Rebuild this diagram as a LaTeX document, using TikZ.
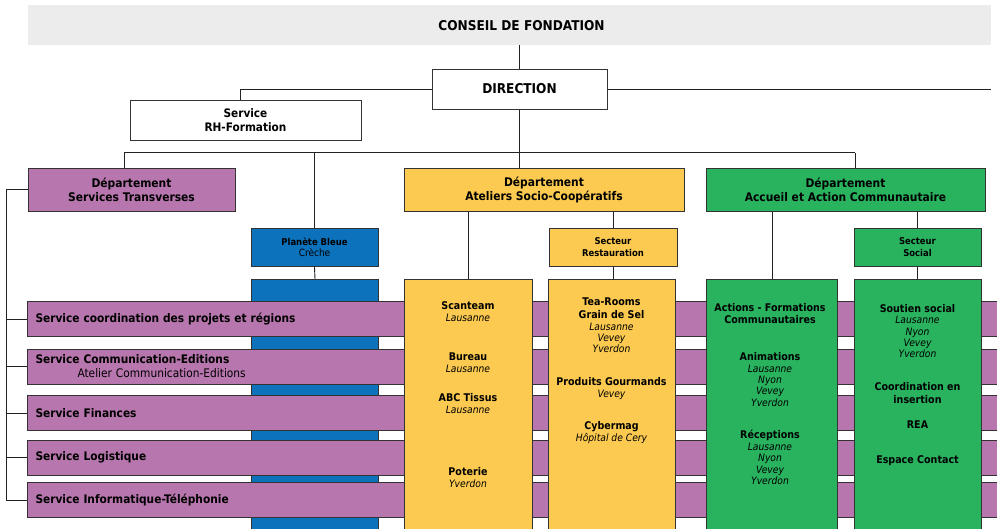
\documentclass[tikz,border=0pt]{standalone}
\usepackage{fontspec}
\setmainfont{DejaVu Sans Condensed}
\definecolor{cgray}{HTML}{ECECEC}
\definecolor{cpurple}{HTML}{B876AE}
\definecolor{cyellow}{HTML}{FCCA50}
\definecolor{cgreen}{HTML}{29B35F}
\definecolor{cblue}{HTML}{0B72BB}
\definecolor{cborder}{HTML}{333333}
\definecolor{cline}{HTML}{222222}
\begin{document}
\begin{tikzpicture}[x=1pt,y=-1pt,
  box/.style={draw=cborder,line width=1pt,inner sep=0pt,align=center,
    font=\fontsize{11.9}{14}\selectfont\bfseries},
  bar/.style={draw=cborder,line width=1pt,fill=cpurple,inner ysep=0pt,inner xsep=8pt,
    text width=967pt,align=left,minimum height=35pt,anchor=west,
    font=\fontsize{11.8}{14}\selectfont\bfseries},
  col/.style={draw=cborder,line width=1pt,inner sep=0pt,anchor=north west,minimum height=270pt},
  small/.style={draw=cborder,line width=1pt,inner sep=0pt,align=center,
    minimum height=38pt,font=\fontsize{9.4}{11.5}\selectfont\bfseries},
  ttl/.style={inner sep=0pt,text height=7.7pt,text depth=0pt,font=\fontsize{10.6}{12}\selectfont\bfseries},
  sub/.style={inner sep=0pt,text height=6.8pt,text depth=0pt,font=\fontsize{10.2}{11}\selectfont\itshape},
  link/.style={draw=cline,line width=0.9pt}]
\clip (0,0) rectangle (997,528);
\fill[white] (0,0) rectangle (997,528);

% top
\node[inner sep=0pt,fill=cgray,minimum width=963pt,minimum height=40pt] (conseil) at (509.5,25) {};
\node[font=\fontsize{13.5}{15}\selectfont\bfseries,inner sep=0pt] (conseiltxt) at (521.5,25.5) {CONSEIL DE FONDATION};
\node[box,fill=white,minimum width=175pt,minimum height=40pt,font=\fontsize{13.5}{15}\selectfont\bfseries] (dir) at (519.5,89) {DIRECTION};
\node[box,fill=white,minimum width=231pt,minimum height=40pt,font=\fontsize{11.7}{14}\selectfont\bfseries] (rh) at (245.5,120) {Service\\RH-Formation};
\coordinate (rend) at (991,89);
\draw[link] (dir.north) -- (dir.north |- conseil.south);
\draw[link] (dir.east) -- (rend);
\draw[link] (dir.west) -| ([xshift=-5.5pt]rh.north);

% departments
\node[box,fill=cpurple,minimum width=207pt,minimum height=43pt] (st) at (131.5,189.5) {Département\\Services Transverses};
\node[box,fill=cyellow,minimum width=280pt,minimum height=43pt] (asc) at (544,189.5) {Département\\Ateliers Socio-Coopératifs};
\node[box,fill=cgreen,minimum width=279pt,minimum height=43pt] (aac) at (845.5,189.5) {Département\\Accueil et Action Communautaire};

\coordinate (busL) at (124,152.5);
\coordinate (busR) at (855,152.5);
\draw[link] (busL) -- (busR);
\draw[link] (busL) -- (busL |- st.north);
\draw[link] (busR) -- (busR |- aac.north);
\draw[link] (dir.south) -- (dir.south |- asc.north);

% blue (behind bars)
\node[small,fill=cblue,minimum width=127pt] (pb) at (314.5,247.5) {Planète Bleue\\\mdseries\fontsize{10}{11.5}\selectfont Crèche};
\node[col,fill=cblue,minimum width=127pt] (pbcol) at (251,279) {};
\draw[link] (pb.north) -- (pb.north |- busL);
\draw[link] (pb.south) -- (pbcol.north);

% service bars
\node[bar] (b1) at (27,319) {Service coordination des projets et régions};
\node[bar] (b2) at (27,366.5) {Service Communication-Editions\\\hspace*{42pt}\mdseries Atelier Communication-Editions};
\node[bar] (b3) at (27,413) {Service Finances};
\node[bar] (b4) at (27,457.5) {Service Logistique};
\node[bar] (b5) at (27,500) {Service Informatique-Téléphonie};
\coordinate (lx) at (6,189.5);
\draw[link] (st.west) -- (lx) |- (b5.west);
\foreach \b in {b1,b2,b3,b4} \draw[link] (lx |- \b.west) -- (\b.west);

% ASC
\node[small,fill=cyellow,minimum width=128pt] (resto) at (613,247) {Secteur\\Restauration};
\node[col,fill=cyellow,minimum width=128pt] (a1) at (404,279) {};
\node[col,fill=cyellow,minimum width=127pt] (a2) at (548,279) {};
\draw[link] (asc.south -| resto.north) -- (resto.north);
\draw[link] (resto.south) -- (resto.south |- a2.north);
\draw[link] (a1.north |- asc.south) -- (a1.north);

% AAC
\node[small,fill=cgreen,minimum width=127pt] (soc) at (917.5,247) {Secteur\\Social};
\node[col,fill=cgreen,minimum width=131pt] (c1) at (706,279) {};
\node[col,fill=cgreen,minimum width=127pt] (c2) at (854,279) {};
\draw[link] (aac.south -| soc.north) -- (soc.north);
\draw[link] (soc.south) -- (soc.south |- c2.north);
\draw[link] (c1.north |- aac.south) -- (c1.north);

% column texts
\node[ttl] (a1t1) at (468,306) {Scanteam};
\node[sub] (a1s1) at (468,318) {Lausanne};
\node[ttl] (a1t2) at (468,357) {Bureau};
\node[sub] (a1s2) at (468,369) {Lausanne};
\node[ttl] (a1t3) at (468,398) {ABC Tissus};
\node[sub] (a1s3) at (468,410) {Lausanne};
\node[ttl] (a1t4) at (468,472) {Poterie};
\node[sub] (a1s4) at (468,484) {Yverdon};

\node[ttl] (a2t1) at (611.5,302) {Tea-Rooms};
\node[ttl] (a2t1b) at (611.5,315) {Grain de Sel};
\node[sub] (a2s1) at (611.5,327) {Lausanne};
\node[sub] (a2s2) at (611.5,338) {Vevey};
\node[sub] (a2s3) at (611.5,349) {Yverdon};
\node[ttl] (a2t2) at (611.5,382) {Produits Gourmands};
\node[sub] (a2s4) at (611.5,394) {Vevey};
\node[ttl] (a2t3) at (611.5,426) {Cybermag};
\node[sub] (a2s5) at (611.5,438) {Hôpital de Cery};

\node[ttl] (c1t1) at (770,308) {Actions - Formations};
\node[ttl] (c1t1b) at (770,320) {Communautaires};
\node[ttl] (c1t2) at (770,357) {Animations};
\node[sub] (c1s1) at (770,369) {Lausanne};
\node[sub] (c1s2) at (770,380) {Nyon};
\node[sub] (c1s3) at (770,391) {Vevey};
\node[sub] (c1s4) at (770,403) {Yverdon};
\node[ttl] (c1t3) at (770,435) {Réceptions};
\node[sub] (c1s5) at (770,447) {Lausanne};
\node[sub] (c1s6) at (770,458) {Nyon};
\node[sub] (c1s7) at (770,470) {Vevey};
\node[sub] (c1s8) at (770,481) {Yverdon};

\node[ttl] (c2t1) at (917.5,309) {Soutien social};
\node[sub] (c2s1) at (917.5,320) {Lausanne};
\node[sub] (c2s2) at (917.5,332) {Nyon};
\node[sub] (c2s3) at (917.5,343) {Vevey};
\node[sub] (c2s4) at (917.5,354) {Yverdon};
\node[ttl] (c2t2) at (917.5,387) {Coordination en};
\node[ttl] (c2t2b) at (917.5,400) {insertion};
\node[ttl] (c2t3) at (917.5,425) {REA};
\node[ttl] (c2t4) at (917.5,460) {Espace Contact};
\end{tikzpicture}
\end{document}
